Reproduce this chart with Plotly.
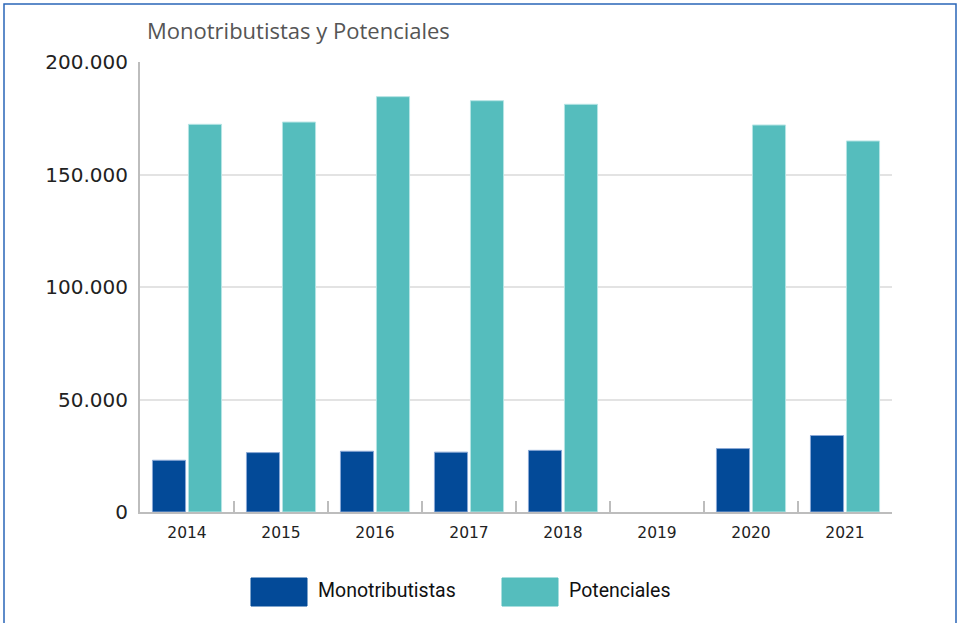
import plotly.graph_objects as go

years = ["2014", "2015", "2016", "2017", "2018", "2019", "2020", "2021"]
monotributistas = [23000, 26400, 27000, 26600, 27400, None, 28200, 34000]
potenciales = [172300, 173300, 184600, 182800, 181200, None, 172000, 164900]
y_ticks = [0, 50000, 100000, 150000, 200000]
series_names = ["Monotributistas", "Potenciales"]

c_mono = "#034a98"
c_pot = "#55bdbd"
num_font = "DejaVu Sans"
title_font = "Open Sans"
legend_font = "Roboto"

fig = go.Figure()
fig.add_trace(go.Bar(x=years, y=monotributistas, name=series_names[0],
                     marker=dict(color=c_mono, line=dict(color="#8aa8d6", width=1)),
                     showlegend=False))
fig.add_trace(go.Bar(x=years, y=potenciales, name=series_names[1],
                     marker=dict(color=c_pot, line=dict(color="#b5e4e4", width=1)),
                     showlegend=False))

W, H = 957, 623
L, R, T, B = 140, 65, 62, 111
pw, ph = W - L - R, H - T - B

def px_x(p):
    return (p - L) / pw

def px_y(p):
    return (H - B - p) / ph

shapes = [
    dict(type="rect", xref="paper", yref="paper",
         x0=px_x(4), x1=px_x(956), y0=px_y(640), y1=px_y(4),
         line=dict(color="#2a66b8", width=1.5), layer="below"),
]
annotations = [
    dict(text="Monotributistas y Potenciales", xref="paper", yref="paper",
         x=px_x(145), y=px_y(30), xanchor="left", yanchor="middle", showarrow=False,
         font=dict(family=title_font, size=22, color="#555555")),
]
legend_items = [(series_names[0], c_mono, 251), (series_names[1], c_pot, 502)]
for name, col, x0 in legend_items:
    shapes.append(dict(type="rect", xref="paper", yref="paper",
                       x0=px_x(x0), x1=px_x(x0 + 56), y0=px_y(606), y1=px_y(578),
                       fillcolor=col, line=dict(color=col, width=1)))
    annotations.append(dict(text=name, xref="paper", yref="paper",
                            x=px_x(x0 + 65), y=px_y(590), xanchor="left", yanchor="middle",
                            showarrow=False, font=dict(family=legend_font, size=19.5, color="#111111")))

fig.update_layout(
    width=W, height=H,
    margin=dict(l=L, r=R, t=T, b=B, pad=0),
    paper_bgcolor="white", plot_bgcolor="white",
    barmode="group", bargap=0.234, bargroupgap=0.08,
    separators=",.",
    font=dict(family=num_font, color="#222222"),
    shapes=shapes, annotations=annotations,
    showlegend=False,
)
fig.update_xaxes(
    type="category", range=[-0.5, 7.5],
    showline=True, linecolor="#bdbdbd", linewidth=2,
    ticks="inside", tickson="boundaries", ticklen=11, tickcolor="#bdbdbd", tickwidth=2,
    tickfont=dict(family=num_font, size=15.5, color="#222222"),
    ticklabelstandoff=5,
    showgrid=False,
)
fig.update_yaxes(
    range=[0, 200000], tickvals=y_ticks, tickformat=",d",
    showline=True, linecolor="#bdbdbd", linewidth=2,
    showgrid=True, gridcolor="#e3e3e3", gridwidth=2,
    zeroline=False,
    ticks="", ticklabelstandoff=6,
    tickfont=dict(family=num_font, size=20, color="#222222"),
)

fig.write_html("out.html",
               config={"displayModeBar": False},
               post_script="document.body.style.margin='0';document.body.style.overflow='hidden';")
